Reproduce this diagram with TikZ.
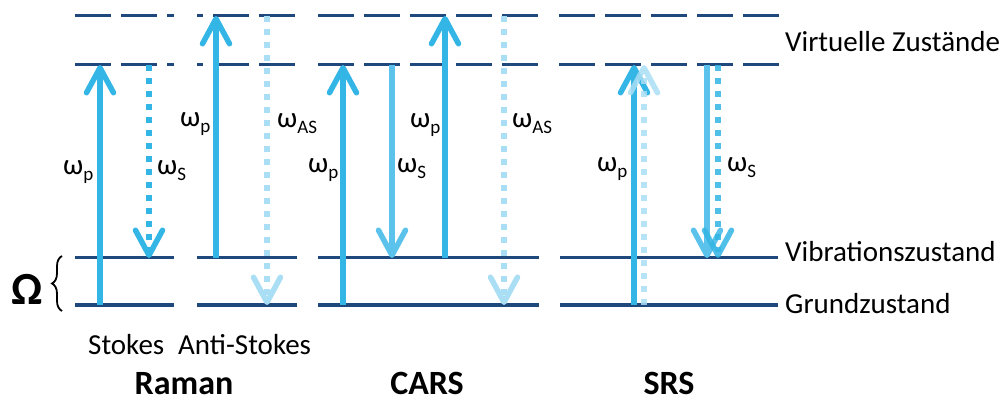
\documentclass[tikz,border=0pt]{standalone}
\usepackage{fontspec}
\setmainfont{Carlito}
\usetikzlibrary{arrows.meta,decorations.pathreplacing}
\definecolor{navy}{HTML}{1F497D}
\definecolor{skyblue}{HTML}{33B5E5}
\definecolor{skymid}{HTML}{5BC3EB}
\definecolor{skylight}{HTML}{A9DEF4}
\newcommand{\omg}[1]{ω\raisebox{-6pt}{\fontsize{19}{19}\selectfont #1}}
\tikzset{
  virt/.style={navy, line width=3pt, dash pattern=on 36pt off 10pt},
  vib/.style={navy, line width=3pt},
  gnd/.style={navy, line width=4.5pt},
  barb/.tip={Straight Barb[length=25pt,width=27pt,round]},
  photon/.style={line width=5.5pt, -barb},
  dots/.style={photon, dash pattern=on 6pt off 7pt},
  lbl/.style={font=\fontsize{29}{29}\selectfont, inner sep=0pt, anchor=base west},
  title/.style={font=\fontsize{34}{34}\selectfont\bfseries, inner sep=0pt, anchor=base}
}
\begin{document}
\begin{tikzpicture}[x=1pt,y=-1pt]
\useasboundingbox (0,0) rectangle (1004,403);
% virtual levels
\foreach \y in {16,65}{
  \draw[virt] (75,\y) -- (174,\y);
  \draw[virt, dash phase=30pt] (197,\y) -- (297,\y);
  \draw[virt] (318,\y) -- (539,\y);
  \draw[virt] (559,\y) -- (779,\y);
}
% vibrational level
\draw[vib] (75,258) -- (174,258);
\draw[vib] (197,258) -- (297,258);
\draw[vib] (318,258) -- (539,258);
\draw[vib] (560,258) -- (778,258);
% ground level
\draw[gnd] (75,305) -- (174,305);
\draw[gnd] (197,305) -- (297,305);
\draw[gnd] (318,305) -- (539,305);
\draw[gnd] (560,305) -- (778,305);

% coordinates of transitions
\coordinate (r1a) at (100,305); \coordinate (r1b) at (100,65);
\coordinate (r2a) at (149,65);  \coordinate (r2b) at (149,258);
\coordinate (r3a) at (216,258); \coordinate (r3b) at (216,16);
\coordinate (r4a) at (267,16);  \coordinate (r4b) at (267,305);
\coordinate (c1a) at (343,305); \coordinate (c1b) at (343,65);
\coordinate (c2a) at (392,65);  \coordinate (c2b) at (392,258);
\coordinate (c3a) at (445,258); \coordinate (c3b) at (445,16);
\coordinate (c4a) at (504,16);  \coordinate (c4b) at (504,305);
\coordinate (s1a) at (634,305); \coordinate (s1b) at (634,65);
\coordinate (s2a) at (644,305); \coordinate (s2b) at (644,65);
\coordinate (s3a) at (707,65);  \coordinate (s3b) at (707,258);
\coordinate (s4a) at (718,65);  \coordinate (s4b) at (718,258);

% Raman
\draw[photon, skyblue] (r1a) -- (r1b);
\draw[dots, skyblue] (r2a) -- (r2b);
\draw[photon, skyblue] (r3a) -- (r3b);
\draw[dots, skylight] (r4a) -- (r4b);
% CARS
\draw[photon, skyblue] (c1a) -- (c1b);
\draw[photon, skymid] (c2a) -- (c2b);
\draw[photon, skyblue] (c3a) -- (c3b);
\draw[dots, skylight] (c4a) -- (c4b);
% SRS
\draw[photon, skyblue] (s1a) -- (s1b);
\draw[dots, skylight, opacity=0.85] (s2a) -- (s2b);
\draw[photon, skymid] (s3a) -- (s3b);
\draw[dots, skyblue, opacity=0.85] (s4a) -- (s4b);

% labels
\node[lbl] (l1) at (63,175) {\omg{p}};
\node[lbl] (l2) at (157,175) {\omg{S}};
\node[lbl] (l3) at (180,127) {\omg{p}};
\node[lbl] (l4) at (277,128) {\omg{AS}};
\node[lbl] (l5) at (308,173) {\omg{p}};
\node[lbl] (l6) at (397,173) {\omg{S}};
\node[lbl] (l7) at (410,128) {\omg{p}};
\node[lbl] (l8) at (512,128) {\omg{AS}};
\node[lbl] (l9) at (597,172) {\omg{p}};
\node[lbl] (l10) at (727,172) {\omg{S}};

\node[lbl] (virt) at (785,52) {Virtuelle Zustände};
\node[lbl] (vibr) at (785,262) {Vibrationszustand};
\node[lbl] (grnd) at (785,313) {Grundzustand};

\node[lbl] (stokes) at (88,355) {Stokes};
\node[lbl] (astokes) at (178,355) {Anti-Stokes};

\node[title] (raman) at (184,394) {Raman};
\node[title] (cars) at (427,394) {CARS};
\node[title] (srs) at (669,394) {SRS};

\node[font=\fontsize{46}{46}\selectfont\bfseries, inner sep=0pt, anchor=base] (omega) at (27,305) {Ω};
\coordinate (brb) at (62,311);
\coordinate (brt) at (62,256);
\draw[line width=1.8pt, decorate, decoration={brace, amplitude=10pt}] (brb) -- (brt);
\end{tikzpicture}
\end{document}
